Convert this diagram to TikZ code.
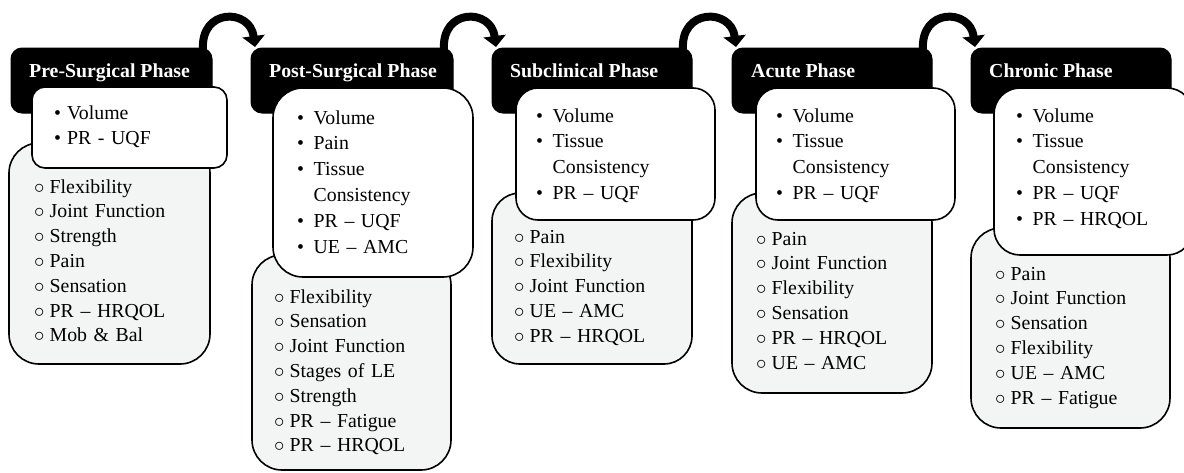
\documentclass[tikz,border=0pt]{standalone}
\usepackage{fontspec}
\setmainfont{Liberation Serif}
\usetikzlibrary{arrows.meta}
\definecolor{paleGray}{HTML}{F3F4F4}
\newcommand{\bulA}{\makebox[13pt][l]{\textbullet}}
\newcommand{\bulB}{\makebox[16.5pt][l]{\textbullet}}
\newcommand{\cirm}{\makebox[15.5pt][l]{$\circ$}}
\tikzset{
  hdr/.style={fill=black, draw=black, line width=1pt, anchor=north west, inner sep=0pt, outer sep=0pt, rounded corners=11pt, minimum height=65pt},
  wbox/.style={fill=white, draw=black, line width=1.6pt, anchor=north west, inner sep=0pt, outer sep=0pt},
  gbox/.style={fill=paleGray, draw=black, line width=1.6pt, anchor=north west, inner sep=0pt, outer sep=0pt},
  htext/.style={anchor=base west, inner sep=0pt, text=white, font=\fontsize{19.8}{24}\selectfont\bfseries},
  wlist/.style={anchor=base west, inner sep=0pt, align=left, text width=185pt, font=\fontsize{19.8}{25.8}\selectfont},
  glist/.style={anchor=base west, inner sep=0pt, align=left, text width=185pt, font=\fontsize{19.8}{24.8}\selectfont},
  flow/.style={draw=black, line width=8pt, -{Triangle[width=22pt,length=11pt]}}
}
\begin{document}
\begin{tikzpicture}[x=1pt,y=-1pt]
\useasboundingbox (0,0) rectangle (1184,472);
\clip (0,0) rectangle (1184,472);
% column 1
\node[hdr, minimum width=201pt] (h1) at (11,48) {};
\node[gbox, rounded corners=30pt, minimum width=201pt, minimum height=221pt] (g1) at (9,143) {};
\node[wbox, rounded corners=13pt, minimum width=195pt, minimum height=81pt] (w1) at (32,87) {};
\node[htext] (t1) at (29,77.5) {Pre-Surgical Phase};
\node[wlist] (a1) at (54,119) {\bulA Volume\\\bulA PR - UQF};
\node[glist] (b1) at (34,193) {\cirm Flexibility\\\cirm Joint Function\\\cirm Strength\\\cirm Pain\\\cirm Sensation\\\cirm PR – HRQOL\\\cirm Mob \& Bal};
% column 2
\node[hdr, minimum width=202pt] (h2) at (251,48) {};
\node[gbox, rounded corners=30pt, minimum width=199pt, minimum height=215pt] (g2) at (252,255) {};
\node[wbox, rounded corners=30pt, minimum width=200pt, minimum height=189pt] (w2) at (273,88) {};
\node[htext] (t2) at (269,77.5) {Post-Surgical Phase};
\node[wlist] (a2) at (297,124) {\bulB Volume\\\bulB Pain\\\bulB Tissue\\\hspace*{16.5pt}Consistency\\\bulB PR – UQF\\\bulB UE – AMC};
\node[glist] (b2) at (274,303) {\cirm Flexibility\\\cirm Sensation\\\cirm Joint Function\\\cirm Stages of LE\\\cirm Strength\\\cirm PR – Fatigue\\\cirm PR – HRQOL};
% column 3
\node[hdr, minimum width=200pt] (h3) at (492,48) {};
\node[gbox, rounded corners=28pt, minimum width=200pt, minimum height=171pt] (g3) at (492,193) {};
\node[wbox, rounded corners=22pt, minimum width=199pt, minimum height=132pt] (w3) at (516,88) {};
\node[htext] (t3) at (510,77.5) {Subclinical Phase};
\node[wlist] (a3) at (536,122) {\bulB Volume\\\bulB Tissue\\\hspace*{16.5pt}Consistency\\\bulB PR – UQF};
\node[glist] (b3) at (514,243) {\cirm Pain\\\cirm Flexibility\\\cirm Joint Function\\\cirm UE – AMC\\\cirm PR – HRQOL};
% column 4
\node[hdr, minimum width=200pt] (h4) at (732,48) {};
\node[gbox, rounded corners=30pt, minimum width=200pt, minimum height=200pt] (g4) at (732,193) {};
\node[wbox, rounded corners=22pt, minimum width=199pt, minimum height=132pt] (w4) at (756,88) {};
\node[htext] (t4) at (751,77.5) {Acute Phase};
\node[wlist] (a4) at (776,122) {\bulB Volume\\\bulB Tissue\\\hspace*{16.5pt}Consistency\\\bulB PR – UQF};
\node[glist] (b4) at (756,245) {\cirm Pain\\\cirm Joint Function\\\cirm Flexibility\\\cirm Sensation\\\cirm PR – HRQOL\\\cirm UE – AMC};
% column 5
\node[hdr, minimum width=200pt] (h5) at (971,48) {};
\node[gbox, rounded corners=30pt, minimum width=199pt, minimum height=200pt] (g5) at (971,228) {};
\node[wbox, rounded corners=26pt, minimum width=199pt, minimum height=167pt] (w5) at (994,88) {};
\node[htext] (t5) at (989,77.5) {Chronic Phase};
\node[wlist] (a5) at (1016,122) {\bulB Volume\\\bulB Tissue\\\hspace*{16.5pt}Consistency\\\bulB PR – UQF\\\bulB PR – HRQOL};
\node[glist] (b5) at (995,280) {\cirm Pain\\\cirm Joint Function\\\cirm Sensation\\\cirm Flexibility\\\cirm UE – AMC\\\cirm PR – Fatigue};
% arrows
\draw[flow] ([xshift=-9pt,yshift=-2pt]h1.north east) .. controls +(-3,-42) and +(-5,-39) .. ([xshift=4pt,yshift=1pt]h2.north west);
\draw[flow] ([xshift=-9pt,yshift=-2pt]h2.north east) .. controls +(-3,-42) and +(-5,-39) .. ([xshift=4pt,yshift=1pt]h3.north west);
\draw[flow] ([xshift=-9pt,yshift=-2pt]h3.north east) .. controls +(-3,-42) and +(-5,-39) .. ([xshift=4pt,yshift=1pt]h4.north west);
\draw[flow] ([xshift=-9pt,yshift=-2pt]h4.north east) .. controls +(-3,-42) and +(-5,-39) .. ([xshift=4pt,yshift=1pt]h5.north west);
\end{tikzpicture}
\end{document}
